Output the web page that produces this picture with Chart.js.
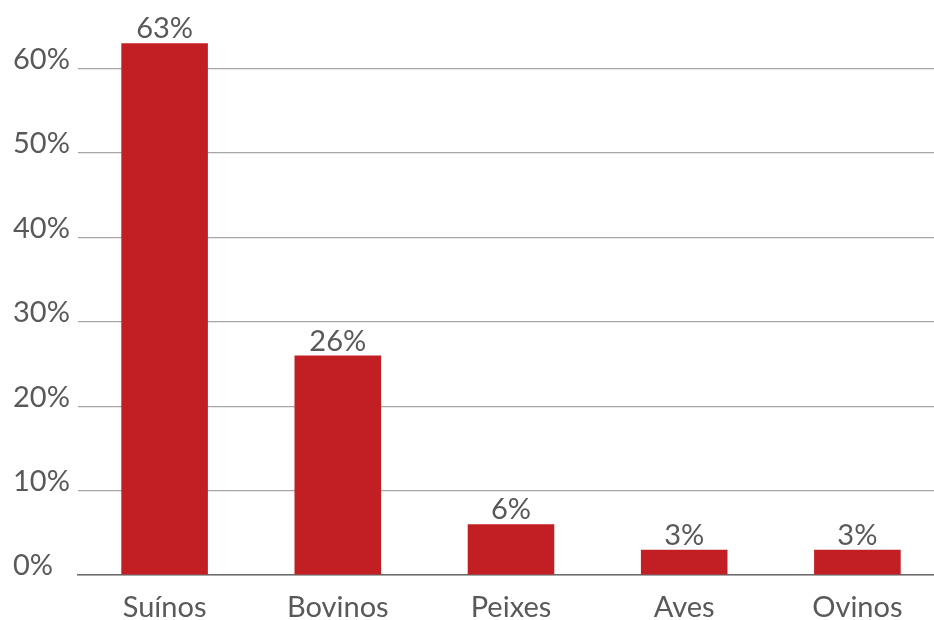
<!DOCTYPE html>
<html>
<head>
<meta charset="utf-8">
<script src="https://cdn.jsdelivr.net/npm/chart.js@4"></script>
<style>
    html, body { margin: 0; padding: 0; background: #fff; overflow: hidden; }
    #wrap { width: 944px; height: 620px; }
</style>
</head>
<body>
<div id="wrap"><canvas id="share-chart"></canvas></div>
<script>
const categories = ['Suínos', 'Bovinos', 'Peixes', 'Aves', 'Ovinos'];
const shares = [63, 26, 6, 3, 3];
const yTicks = [0, 10, 20, 30, 40, 50, 60];

const textColor = '#595959';
const barColor = '#c21f25';
const fontFamily = 'Lato, "Open Sans", sans-serif';

// value labels over each bar
const barLabels = {
    id: 'barLabels',
    afterDatasetsDraw(chart) {
        const ctx = chart.ctx;
        const meta = chart.getDatasetMeta(0);
        ctx.save();
        ctx.font = '29px ' + fontFamily;
        ctx.fillStyle = textColor;
        ctx.textAlign = 'center';
        ctx.textBaseline = 'alphabetic';
        meta.data.forEach((bar, i) => {
            ctx.fillText(shares[i] + '%', bar.x, bar.y - 5);
        });
        ctx.restore();
    }
};

const ctx = document.getElementById('share-chart').getContext('2d');
new Chart(ctx, {
    type: 'bar',
    data: {
        labels: categories,
        datasets: [{
            data: shares,
            backgroundColor: barColor,
            borderWidth: 0,
            categoryPercentage: 0.5,
            barPercentage: 1
        }]
    },
    plugins: [barLabels],
    options: {
        responsive: true,
        maintainAspectRatio: false,
        animation: false,
        layout: {
            padding: { top: 14.5, left: 13, right: 0, bottom: 0 }
        },
        plugins: {
            legend: { display: false },
            tooltip: { enabled: false }
        },
        scales: {
            x: {
                grid: { display: false, drawTicks: false },
                border: { display: true, color: '#6b6b6b', width: 1.5 },
                ticks: {
                    color: textColor,
                    font: { family: fontFamily, size: 29 },
                    padding: 15
                },
                afterFit(scale) { scale.height = 45; }
            },
            y: {
                min: 0,
                max: 65.7,
                afterBuildTicks(scale) {
                    scale.ticks = yTicks.map(v => ({ value: v }));
                },
                grid: { color: '#a6a6a6', lineWidth: 1.2, drawTicks: false },
                border: { display: false },
                ticks: {
                    color: textColor,
                    font: { family: fontFamily, size: 29 },
                    crossAlign: 'far',
                    labelOffset: -9,
                    callback: v => v + '%'
                },
                afterFit(scale) { scale.width = 65; }
            }
        }
    }
});
</script>
</body>
</html>
